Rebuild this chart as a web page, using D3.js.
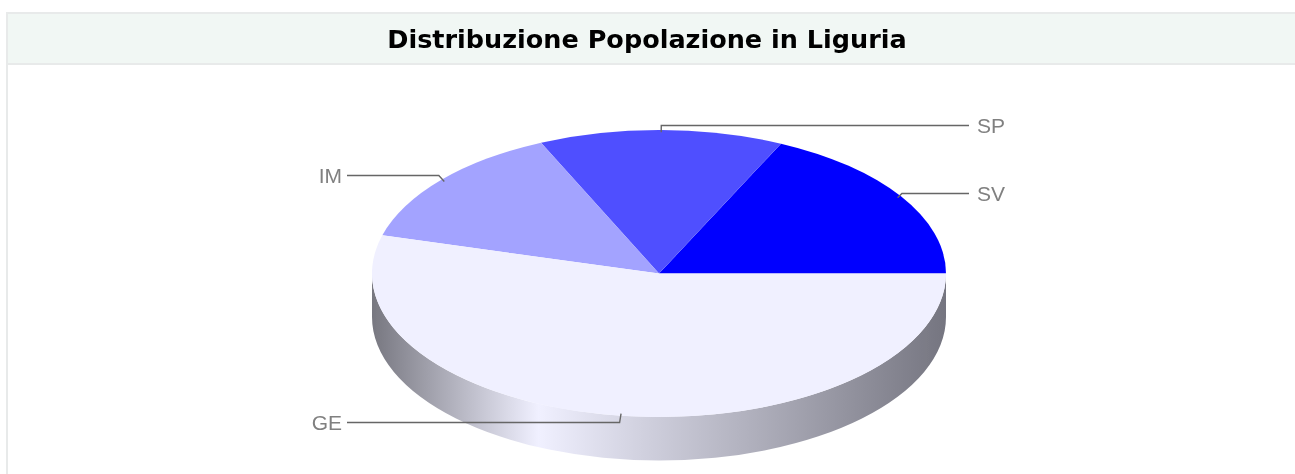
<!DOCTYPE html>
<html><head><meta charset="utf-8">
<script src="https://cdn.jsdelivr.net/npm/d3@7"></script>
<style>html,body{margin:0;padding:0;background:#fff;overflow:hidden}svg{display:block}</style>
</head><body><svg id="c" width="1295" height="474"></svg>
<script>
const title = "Distribuzione Popolazione in Liguria";
const categories = ["SV","SP","IM","GE"];
const values = [290,221,225,874];
const colors = ["#0000ff","#5050ff","#a3a3ff","#f0f0ff"];
const sideStops = [[0,"#777780"],[0.29,"#f0f0ff"],[1,"#757580"]];

const cx=659, cy=273.5, rx=287, ry=143.5, depth=43.5;
const svg=d3.select("#c");
const defs=svg.append("defs");
defs.append("filter").attr("id","soft").attr("x","-5%").attr("y","-5%").attr("width","110%").attr("height","110%")
  .append("feGaussianBlur").attr("stdDeviation",0.45);
// frame
svg.append("rect").attr("x",7).attr("y",13).attr("width",1300).attr("height",470).attr("fill","#fff").attr("stroke","#e8eaea").attr("stroke-width",2);
svg.append("rect").attr("x",8).attr("y",14).attr("width",1287).attr("height",49).attr("fill","#f1f7f4");
svg.append("line").attr("x1",8).attr("x2",1295).attr("y1",64).attr("y2",64).attr("stroke","#e8eaea").attr("stroke-width",2);
svg.append("text").attr("x",647).attr("y",48).attr("text-anchor","middle").attr("filter","url(#soft)")
  .attr("font-family","'DejaVu Sans',Verdana,sans-serif").attr("font-weight","bold").attr("font-size",25.5).attr("fill","#000").text(title);

const grad=defs.append("linearGradient").attr("id","side")
  .attr("gradientUnits","userSpaceOnUse").attr("x1",cx-rx).attr("x2",cx+rx).attr("y1",0).attr("y2",0);
sideStops.forEach(s=>grad.append("stop").attr("offset",s[0]).attr("stop-color",s[1]));

const chart=svg.append("g").attr("filter","url(#soft)");
// side wall
chart.append("path").attr("fill","url(#side)")
  .attr("d",`M${cx+rx},${cy}A${rx},${ry} 0 0 1 ${cx-rx},${cy}L${cx-rx},${cy+depth}A${rx},${ry} 0 0 0 ${cx+rx},${cy+depth}Z`);

const pie=d3.pie().sort(null).startAngle(Math.PI/2).endAngle(-3*Math.PI/2);
const arcs=pie(values);
const arc=d3.arc().innerRadius(0).outerRadius(1);
const topFace=chart.append("g").attr("transform",`translate(${cx},${cy}) scale(${rx},${ry})`);
topFace.selectAll("path").data(arcs).join("path").attr("d",arc).attr("fill",(d,i)=>colors[i]);

// leaders
const labelPos={SV:{x:977,y:193.5,a:"start"},SP:{x:977,y:125.5,a:"start"},IM:{x:342,y:175.5,a:"end"},GE:{x:342,y:422.5,a:"end"}};
arcs.forEach((d,i)=>{
  const name=categories[i], p=labelPos[name];
  const m=(d.startAngle+d.endAngle)/2;
  const ax=cx+rx*0.985*Math.sin(m), ay=cy-ry*0.985*Math.cos(m);
  const ex=p.a==="start"?p.x-8:p.x+5;
  const kx=ax+Math.sin(m)*Math.abs(p.y-ay)*1.2;
  chart.append("polyline").attr("points",[[ax,ay],[kx,p.y],[ex,p.y]].map(q=>q.join(",")).join(" "))
    .attr("fill","none").attr("stroke","#666").attr("stroke-width",1.4);
  chart.append("text").attr("x",p.x).attr("y",p.y+7.5).attr("text-anchor",p.a)
    .attr("font-family","'Liberation Sans',Arial,sans-serif").attr("font-size",21).attr("fill","#808080").text(name);
});
</script></body></html>
